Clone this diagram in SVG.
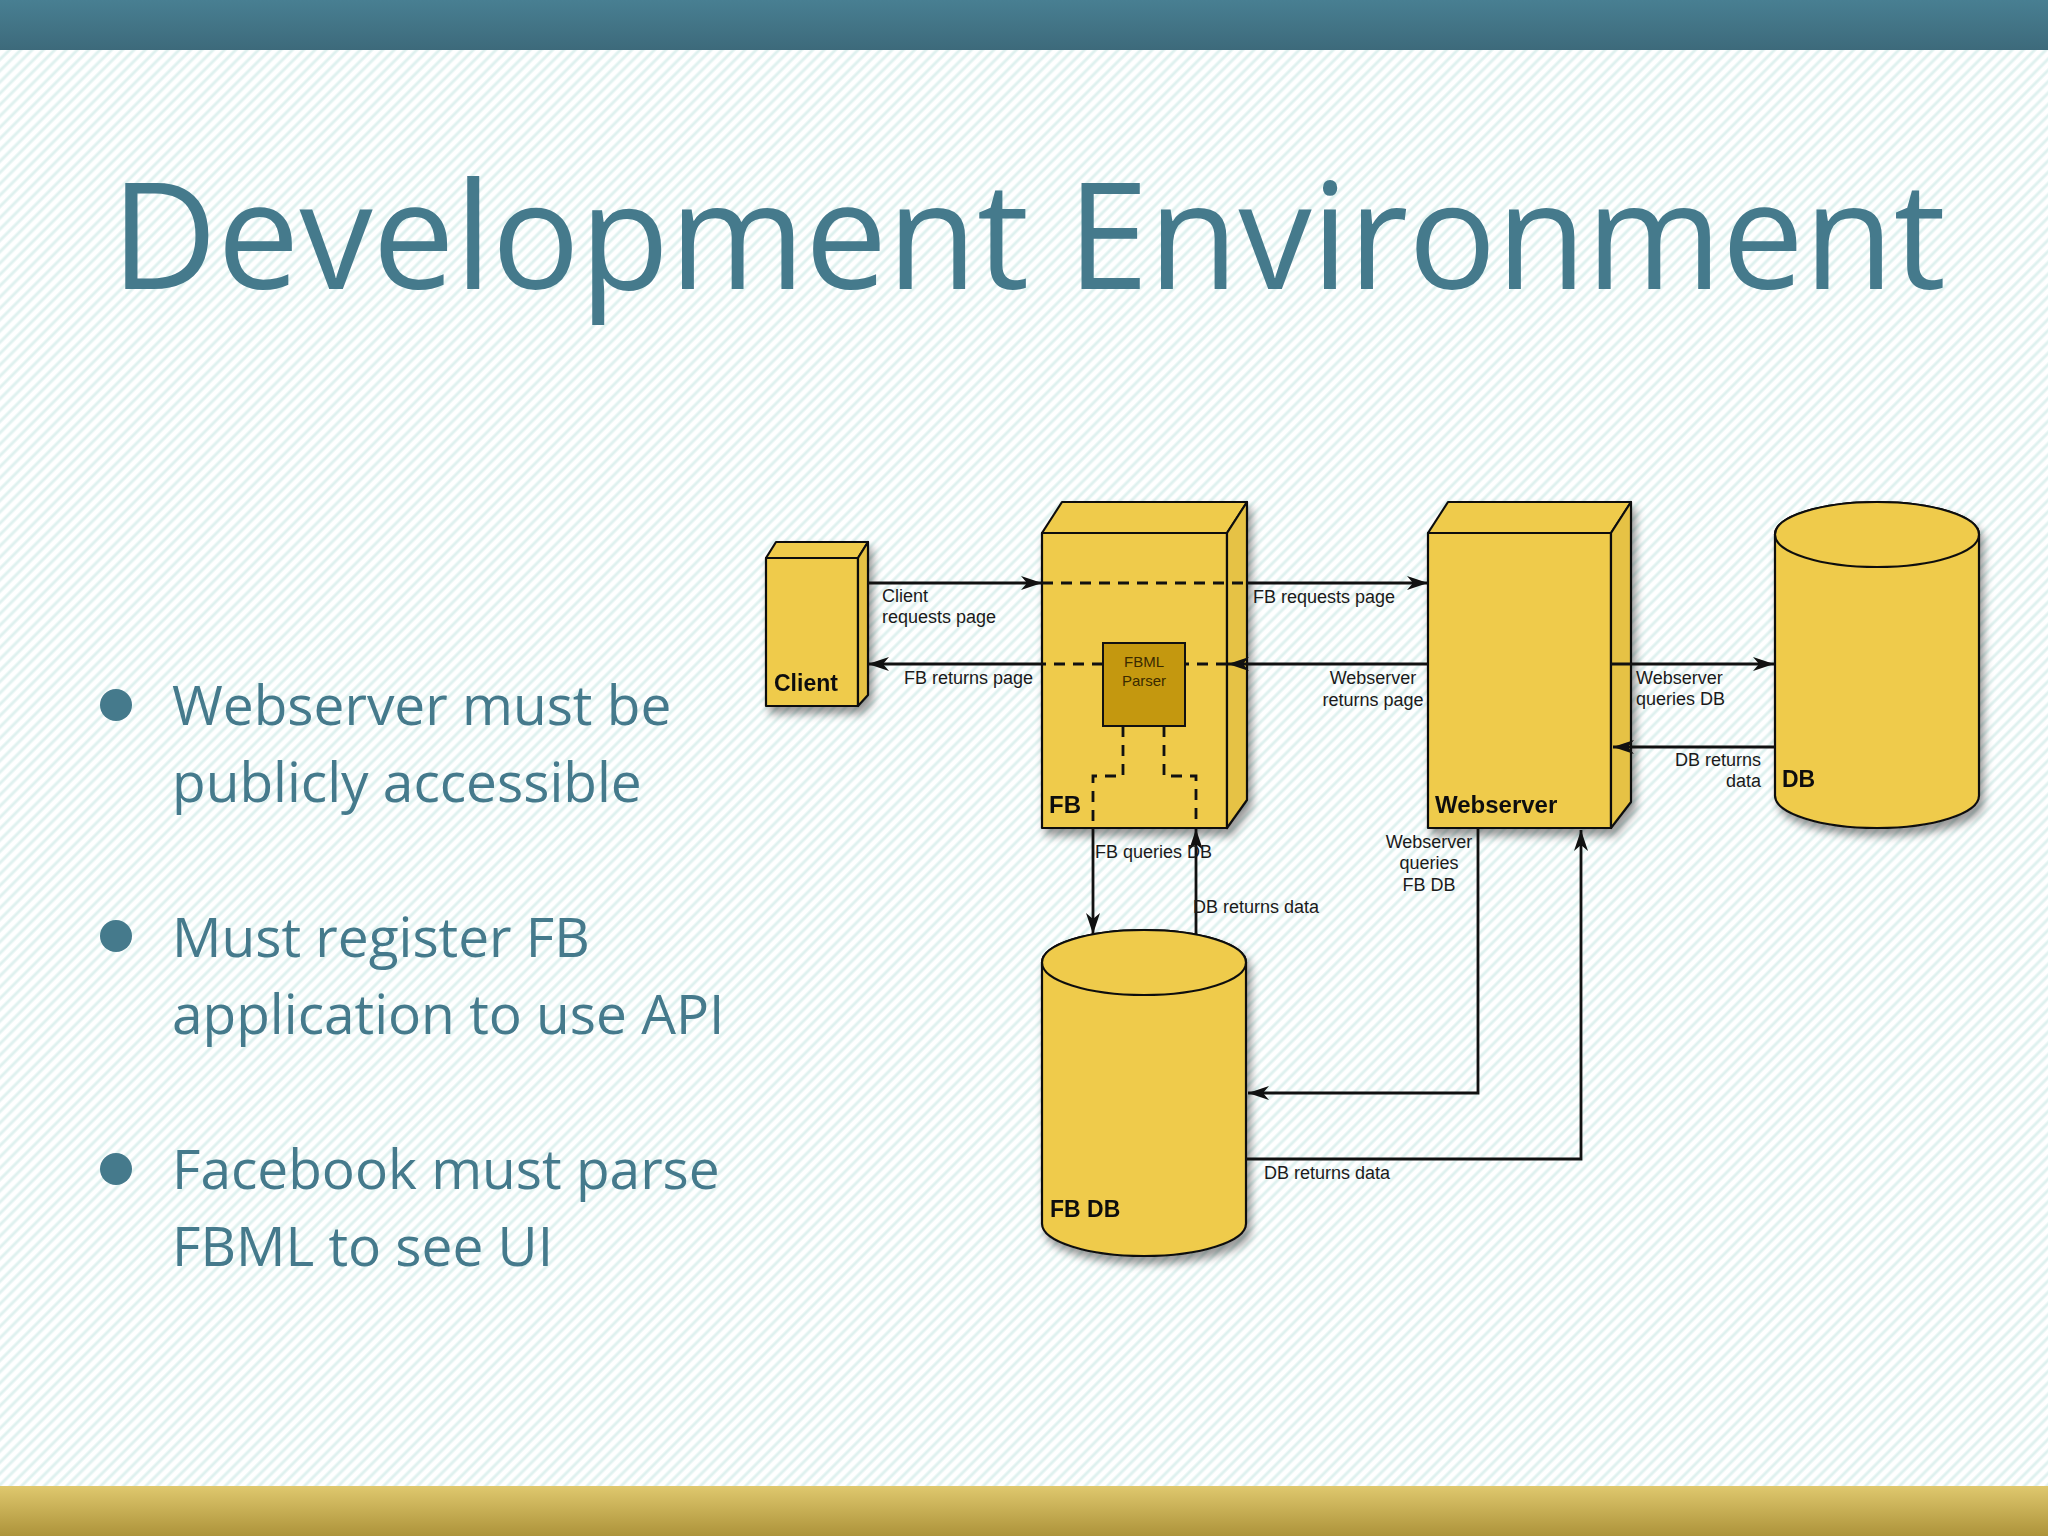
<svg xmlns="http://www.w3.org/2000/svg" width="2048" height="1536" viewBox="0 0 2048 1536">
<defs>
<pattern id="hatch" patternUnits="userSpaceOnUse" width="8" height="8" patternTransform="rotate(45)">
<rect width="8" height="8" fill="#ffffff"/>
<line x1="2" y1="0" x2="2" y2="8" stroke="#dff1ef" stroke-width="3"/>
</pattern>
<linearGradient id="topbar" x1="0" y1="0" x2="0" y2="1">
<stop offset="0" stop-color="#487f92"/>
<stop offset="1" stop-color="#3d6a7b"/>
</linearGradient>
<linearGradient id="botbar" x1="0" y1="0" x2="0" y2="1">
<stop offset="0" stop-color="#dfc86e"/>
<stop offset="1" stop-color="#ad933a"/>
</linearGradient>
<filter id="shadow" x="-20%" y="-20%" width="150%" height="150%">
<feDropShadow dx="4" dy="7" stdDeviation="4" flood-color="#000" flood-opacity="0.4"/>
</filter>
<marker id="arrow" markerUnits="userSpaceOnUse" markerWidth="24" markerHeight="18" refX="22" refY="8" orient="auto">
<path d="M1,1 L22,8 L1,15 L7,8 Z" fill="#111"/>
</marker>
</defs>
<style>
.title{font-family:"Open Sans","Liberation Sans",sans-serif;font-size:148px;fill:#457a8c}
.bul{font-family:"Open Sans","Liberation Sans",sans-serif;font-size:55px;fill:#457a8c}
.dot{fill:#457a8c}
.box{fill:#efcb4b;stroke:#111;stroke-width:2.2;stroke-linejoin:round}
.side{fill:#e6c244;stroke:#111;stroke-width:2.2;stroke-linejoin:round}
.parser{fill:#c4980f;stroke:#111;stroke-width:2}
.lbl{font-family:"Liberation Sans",Arial,sans-serif;font-size:18px;fill:#1a1a1a}
.ptxt{font-family:"Liberation Sans",Arial,sans-serif;font-size:15px;fill:#3a2a00}
.name{font-family:"Liberation Sans",Arial,sans-serif;font-size:23px;font-weight:bold;fill:#111}
.solid{fill:none;stroke:#111;stroke-width:2.8}
.dash{fill:none;stroke:#111;stroke-width:2.8;stroke-dasharray:11 8}
</style>
<rect x="0" y="0" width="2048" height="1536" fill="url(#hatch)"/>
<rect x="0" y="0" width="2048" height="50" fill="url(#topbar)"/>
<rect x="0" y="1486" width="2048" height="50" fill="url(#botbar)"/>
<text class="title" x="111" y="289" textLength="1835" lengthAdjust="spacingAndGlyphs">Development Environment</text>
<g id="bullets">
<circle class="dot" cx="116" cy="705" r="16"/>
<text class="bul" x="172" y="725">Webserver must be</text>
<text class="bul" x="172" y="802">publicly accessible</text>
<circle class="dot" cx="116" cy="936" r="16"/>
<text class="bul" x="172" y="957">Must register FB</text>
<text class="bul" x="172" y="1034">application to use API</text>
<circle class="dot" cx="116" cy="1169" r="16"/>
<text class="bul" x="172" y="1189">Facebook must parse</text>
<text class="bul" x="172" y="1266">FBML to see UI</text>
</g>
<g id="client" filter="url(#shadow)">
<rect class="box" x="766" y="558" width="92" height="148"/>
<polygon class="box" points="766,558 776,542 868,542 858,558"/>
<polygon class="side" points="858,558 868,542 868,695 858,706"/>
<text class="name" x="774" y="691">Client</text>
</g>
<g id="fb" filter="url(#shadow)">
<rect class="box" x="1042" y="533" width="185" height="295"/>
<polygon class="box" points="1042,533 1062,502 1247,502 1227,533"/>
<polygon class="side" points="1227,533 1247,502 1247,800 1227,828"/>
<text class="name" x="1049" y="813" style="font-size:24px">FB</text>
</g>
<g id="webserver" filter="url(#shadow)">
<rect class="box" x="1428" y="533" width="183" height="295"/>
<polygon class="box" points="1428,533 1448,502 1631,502 1611,533"/>
<polygon class="side" points="1611,533 1631,502 1631,802 1611,828"/>
<text class="name" x="1435" y="813" style="font-size:24px">Webserver</text>
</g>
<g id="db" filter="url(#shadow)">
<path class="box" d="M1775,534.5 V795.5 A102,32.5 0 0 0 1979,795.5 V534.5 A102,32.5 0 0 0 1775,534.5 Z"/>
<ellipse class="box" cx="1877" cy="534.5" rx="102" ry="32.5"/>
<text class="name" x="1782" y="787">DB</text>
</g>
<g id="fbdb" filter="url(#shadow)">
<path class="box" d="M1042,962.5 V1223.5 A102,32.5 0 0 0 1246,1223.5 V962.5 A102,32.5 0 0 0 1042,962.5 Z"/>
<ellipse class="box" cx="1144" cy="962.5" rx="102" ry="32.5"/>
<text class="name" x="1050" y="1217">FB DB</text>
</g>
<g id="connectors">
<line class="solid" x1="868" y1="583" x2="1042" y2="583" marker-end="url(#arrow)"/>
<line class="dash" x1="1042" y1="583" x2="1247" y2="583"/>
<line class="solid" x1="1247" y1="583" x2="1428" y2="583" marker-end="url(#arrow)"/>
<line class="solid" x1="1428" y1="664" x2="1228" y2="664" marker-end="url(#arrow)"/>
<line class="dash" x1="1227" y1="664" x2="1185" y2="664"/>
<line class="dash" x1="1103" y1="664" x2="1042" y2="664"/>
<line class="solid" x1="1042" y1="664" x2="868" y2="664" marker-end="url(#arrow)"/>
<path class="dash" d="M1123,726 V776 H1093 V828"/>
<path class="dash" d="M1164,726 V776 H1196 V828"/>
<line class="solid" x1="1093" y1="828" x2="1093" y2="934" marker-end="url(#arrow)"/>
<line class="solid" x1="1196" y1="934" x2="1196" y2="829" marker-end="url(#arrow)"/>
<path class="solid" d="M1478,828 V1093 H1248" marker-end="url(#arrow)"/>
<path class="solid" d="M1246,1159 H1581 V830" marker-end="url(#arrow)"/>
<line class="solid" x1="1611" y1="664" x2="1774" y2="664" marker-end="url(#arrow)"/>
<line class="solid" x1="1775" y1="747" x2="1613" y2="747" marker-end="url(#arrow)"/>
</g>
<g id="parser">
<rect class="parser" x="1103" y="643" width="82" height="83"/>
<text class="ptxt" x="1144" y="667" text-anchor="middle">FBML</text>
<text class="ptxt" x="1144" y="686" text-anchor="middle">Parser</text>
</g>
<g id="labels">
<text class="lbl" x="882" y="602">Client</text>
<text class="lbl" x="882" y="623">requests page</text>
<text class="lbl" x="1033" y="684" text-anchor="end">FB returns page</text>
<text class="lbl" x="1253" y="603">FB requests page</text>
<text class="lbl" x="1373" y="684" text-anchor="middle">Webserver</text>
<text class="lbl" x="1373" y="706" text-anchor="middle">returns page</text>
<text class="lbl" x="1636" y="684">Webserver</text>
<text class="lbl" x="1636" y="705">queries DB</text>
<text class="lbl" x="1761" y="766" text-anchor="end">DB returns</text>
<text class="lbl" x="1761" y="787" text-anchor="end">data</text>
<text class="lbl" x="1095" y="858">FB queries DB</text>
<text class="lbl" x="1193" y="913">DB returns data</text>
<text class="lbl" x="1429" y="848" text-anchor="middle">Webserver</text>
<text class="lbl" x="1429" y="869" text-anchor="middle">queries</text>
<text class="lbl" x="1429" y="891" text-anchor="middle">FB DB</text>
<text class="lbl" x="1264" y="1179">DB returns data</text>
</g>
</svg>
